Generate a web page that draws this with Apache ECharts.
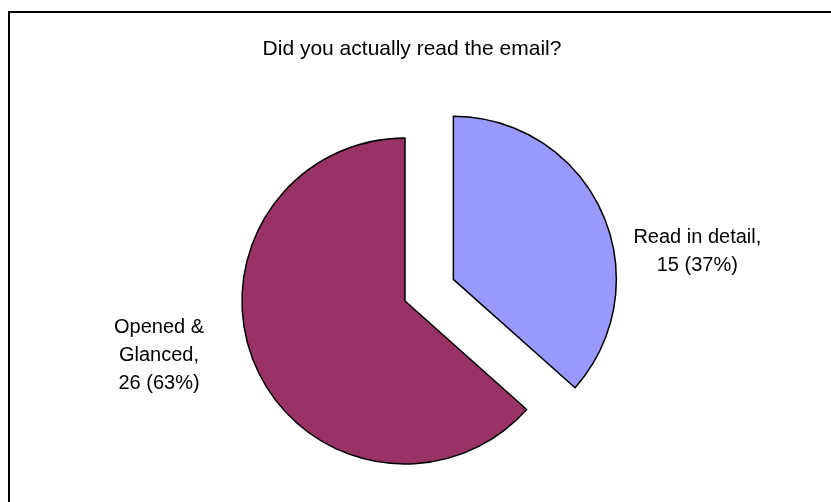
<!DOCTYPE html>
<html>
<head>
<meta charset="utf-8">
<script src="https://cdn.jsdelivr.net/npm/echarts@6/dist/echarts.min.js"></script>
<style>
  html, body { margin: 0; padding: 0; background: #fff; }
  #frame {
    position: absolute; left: 8px; top: 11px; width: 900px; height: 600px;
    border-left: 2px solid #000; border-top: 2px solid #000;
  }
  #main { position: absolute; left: 0; top: 0; width: 831px; height: 502px; }
</style>
</head>
<body>
<div id="frame"></div>
<div id="main"></div>
<script>
// answers and counts
const categories = ['Read in detail', 'Opened & Glanced']
const counts = [15, 26]
const colors = ['#9999FF', '#993366']

const chart = echarts.init(document.getElementById('main'))
const option = {
  animation: false,
  title: {
    text: 'Did you actually read the email?',
    left: 407,
    textAlign: 'center',
    top: 34,
    textStyle: {
      fontFamily: 'Liberation Sans, Arial',
      fontWeight: 'normal',
      fontSize: 21,
      color: '#000'
    }
  },
  series: [
    {
      type: 'pie',
      center: [405, 301],
      radius: 163,
      startAngle: 90,
      clockwise: true,
      percentPrecision: 0,
      avoidLabelOverlap: false,
      selectedMode: 'multiple',
      selectedOffset: 53,
      itemStyle: { borderColor: '#000', borderWidth: 1.5 },
      label: {
        show: true,
        position: 'outside',
        fontFamily: 'Liberation Sans, Arial',
        fontSize: 20,
        lineHeight: 28,
        color: '#000',
        align: 'center',
        formatter: function (p) {
          const name = p.dataIndex === 1 ? p.name.replace(' Glanced', '\nGlanced') : p.name
          return name + ',\n' + p.value + ' (' + p.percent + '%)'
        }
      },
      labelLine: { show: false },
      labelLayout: function (params) {
        // the exploded slice's label follows its own state, only re-align it
        if (params.dataIndex === 0) return { align: 'center' }
        return { x: 159, y: 355, align: 'center', verticalAlign: 'middle' }
      },
      emphasis: { disabled: true },
      select: { itemStyle: { borderColor: '#000', borderWidth: 1.5 } },
      data: categories.map((name, i) => ({
        name,
        value: counts[i],
        selected: i === 0,
        itemStyle: { color: colors[i] },
        select: { itemStyle: { color: colors[i] } },
        labelLine: i === 0 ? { length: -94, length2: 176 } : {}
      }))
    }
  ]
}
chart.setOption(option)
window.addEventListener('resize', () => chart.resize())
</script>
</body>
</html>
